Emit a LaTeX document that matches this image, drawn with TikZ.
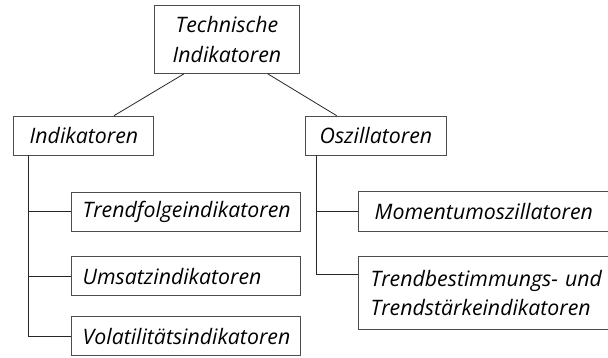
\documentclass[tikz,border=0pt]{standalone}
\usepackage{fontspec}
\setmainfont{Open Sans}
\begin{document}
\begin{tikzpicture}[x=1pt,y=-1pt,
  box/.style={draw=black!70, line width=0.8pt, anchor=north west, inner ysep=0pt,
    font=\itshape\fontsize{21.3}{29}\selectfont, align=left},
  conn/.style={draw=black!85, line width=0.8pt}]
\useasboundingbox (0,0) rectangle (608,358);
\clip (0,0) rectangle (608,358);
\node[box, align=center, minimum width=145pt, minimum height=68pt, inner xsep=0pt, font=\itshape\fontsize{21.3}{30}\selectfont] (top) at (154,5) {Technische\\Indikatoren};
\node[box, minimum width=140.6pt, minimum height=39pt, inner xsep=16.6pt, text width=107.4pt] (ind) at (12.7,115.7) {Indikatoren};
\node[box, minimum width=140.4pt, minimum height=39pt, inner xsep=14pt, text width=112.4pt] (osz) at (305.3,115.7) {Oszillatoren};
\node[box, minimum width=229pt, minimum height=39.3pt, inner xsep=11.3pt, text width=206.4pt] (tf) at (71,191.7) {Trendfolgeindikatoren};
\node[box, minimum width=229pt, minimum height=39pt, inner xsep=11.3pt, text width=206.4pt] (um) at (71,256.3) {Umsatzindikatoren};
\node[box, minimum width=229pt, minimum height=39pt, inner xsep=11.3pt, text width=206.4pt] (vol) at (71,316.3) {Volatilitätsindikatoren};
\node[box, minimum width=350pt, minimum height=40pt, inner xsep=16pt, text width=318pt] (mom) at (358.3,191) {Momentumoszillatoren};
\node[box, minimum width=350pt, minimum height=73pt, inner xsep=11.7pt, text width=326pt, font=\itshape\fontsize{21.3}{28.4}\selectfont] (tb) at (358.3,256.3) {Trendbestimmungs- und\\Trendstärkeindikatoren};
\coordinate (lv) at ([xshift=16pt]ind.south west);
\coordinate (rv) at ([xshift=11.4pt]osz.south west);
\coordinate (tbj) at ([yshift=-18.4pt]tb.north west);
\draw[conn] ([xshift=30pt]top.south west) -- ([xshift=101.3pt]ind.north west);
\draw[conn] ([xshift=113.7pt]top.south west) -- ([xshift=31.4pt]osz.north west);
\draw[conn] (lv) |- (vol.west);
\draw[conn] (tf.west) -- (tf.west -| lv);
\draw[conn] (um.west) -- (um.west -| lv);
\draw[conn] (rv) |- (tbj);
\draw[conn] (mom.west) -- (mom.west -| rv);
\end{tikzpicture}
\end{document}
